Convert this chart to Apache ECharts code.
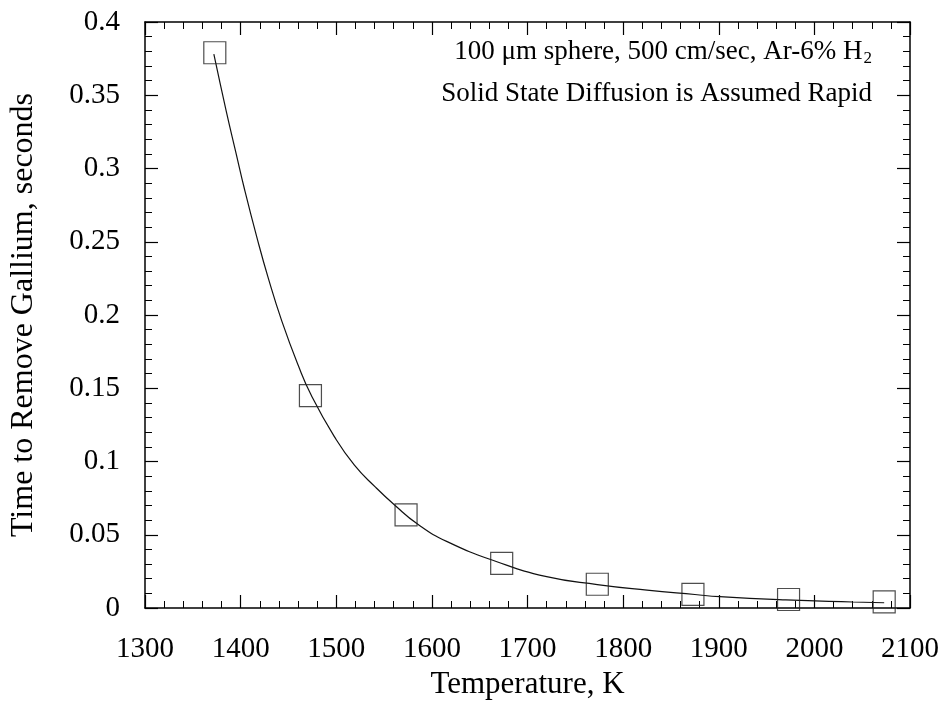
<!DOCTYPE html>
<html>
<head>
<meta charset="utf-8">
<script src="https://cdn.jsdelivr.net/npm/echarts@6/dist/echarts.min.js"></script>
<style>
  html, body { margin: 0; padding: 0; background: #fff; }
  #chart { width: 944px; height: 712px; }
</style>
</head>
<body>
<div id="chart"></div>
<script>
// measured points (squares)
var tempK = [1373, 1473, 1573, 1673, 1773, 1873, 1973, 2073];
var removeTime = [0.379, 0.145, 0.0635, 0.0304, 0.0162, 0.0093, 0.0058, 0.0042];

// fitted curve
var curveT = [1372, 1385, 1395, 1404, 1417, 1429, 1443, 1460, 1474, 1498, 1519, 1541, 1561, 1585, 1616, 1668, 1720, 1773, 1825, 1875, 1901, 1970, 2040, 2073];
var curveV = [0.378, 0.339, 0.311, 0.286, 0.253, 0.225, 0.196, 0.166, 0.145, 0.117, 0.0975, 0.0825, 0.0703, 0.0573, 0.0453, 0.0316, 0.0214, 0.0160, 0.0122, 0.0092, 0.0077, 0.0055, 0.0041, 0.0036];

var note1 = '100 \u03bcm sphere, 500 cm/sec, Ar-6% H';
var note2 = 'Solid State Diffusion is Assumed Rapid';

var serif = '"Liberation Serif", "DejaVu Serif", serif';

function zip(a, b) {
  var out = [];
  for (var i = 0; i < a.length; i++) out.push([a[i], b[i]]);
  return out;
}

function xAxisCfg(pos, showLabel) {
  return {
    type: 'value',
    position: pos,
    min: 1300,
    max: 2100,
    interval: 100,
    name: showLabel ? 'Temperature, K' : '',
    nameLocation: 'middle',
    nameGap: 60,
    nameTextStyle: { fontFamily: serif, fontSize: 31, color: '#000' },
    axisLine: { show: true, onZero: false, lineStyle: { color: '#000', width: 1.5 } },
    axisTick: { show: true, inside: true, length: 13, lineStyle: { color: '#000', width: 1.2 } },
    minorTick: { show: true, splitNumber: 5, length: 7, lineStyle: { color: '#000', width: 1 } },
    axisLabel: {
      show: showLabel, fontFamily: serif, fontSize: 29, color: '#000', margin: 27,
      formatter: function (v) { return String(v); }
    },
    splitLine: { show: false }
  };
}

function yAxisCfg(pos, showLabel) {
  return {
    type: 'value',
    position: pos,
    min: 0,
    max: 0.4,
    interval: 0.05,
    name: showLabel ? 'Time to Remove Gallium, seconds' : '',
    nameLocation: 'middle',
    nameGap: 105,
    nameTextStyle: { fontFamily: serif, fontSize: 32, color: '#000' },
    axisLine: { show: true, onZero: false, lineStyle: { color: '#000', width: 1.5 } },
    axisTick: { show: true, inside: true, length: 13, lineStyle: { color: '#000', width: 1.2 } },
    minorTick: { show: true, splitNumber: 5, length: 7, lineStyle: { color: '#000', width: 1 } },
    axisLabel: {
      show: showLabel, fontFamily: serif, fontSize: 29, color: '#000', margin: 25,
      formatter: function (v) { return String(+v.toFixed(2)); }
    },
    splitLine: { show: false }
  };
}

var chart = echarts.init(document.getElementById('chart'));
chart.setOption({
  backgroundColor: '#fff',
  animation: false,
  grid: { left: 143, right: 34, top: 22, bottom: 104 },
  xAxis: [xAxisCfg('bottom', true), xAxisCfg('top', false)],
  yAxis: [yAxisCfg('left', true), yAxisCfg('right', false)],
  graphic: [
    {
      type: 'text',
      right: 72,
      top: 38,
      style: {
        text: '{m|' + note1 + '}{s|2}',
        rich: {
          m: { fontFamily: serif, fontSize: 27, fill: '#000' },
          s: { fontFamily: serif, fontSize: 17, fill: '#000', padding: [15, 0, 0, 1] }
        }
      }
    },
    {
      type: 'text',
      right: 72,
      top: 80,
      style: { text: note2, fontFamily: serif, fontSize: 27, fill: '#000' }
    }
  ],
  series: [
    {
      type: 'line',
      data: zip(curveT, curveV),
      smooth: true,
      showSymbol: false,
      lineStyle: { color: '#111', width: 1.2 },
      z: 2
    },
    {
      type: 'scatter',
      data: zip(tempK, removeTime),
      symbol: 'rect',
      symbolSize: 22,
      itemStyle: { color: 'rgba(0,0,0,0)', borderColor: '#222', borderWidth: 1.2 },
      z: 3
    }
  ]
});
</script>
</body>
</html>
